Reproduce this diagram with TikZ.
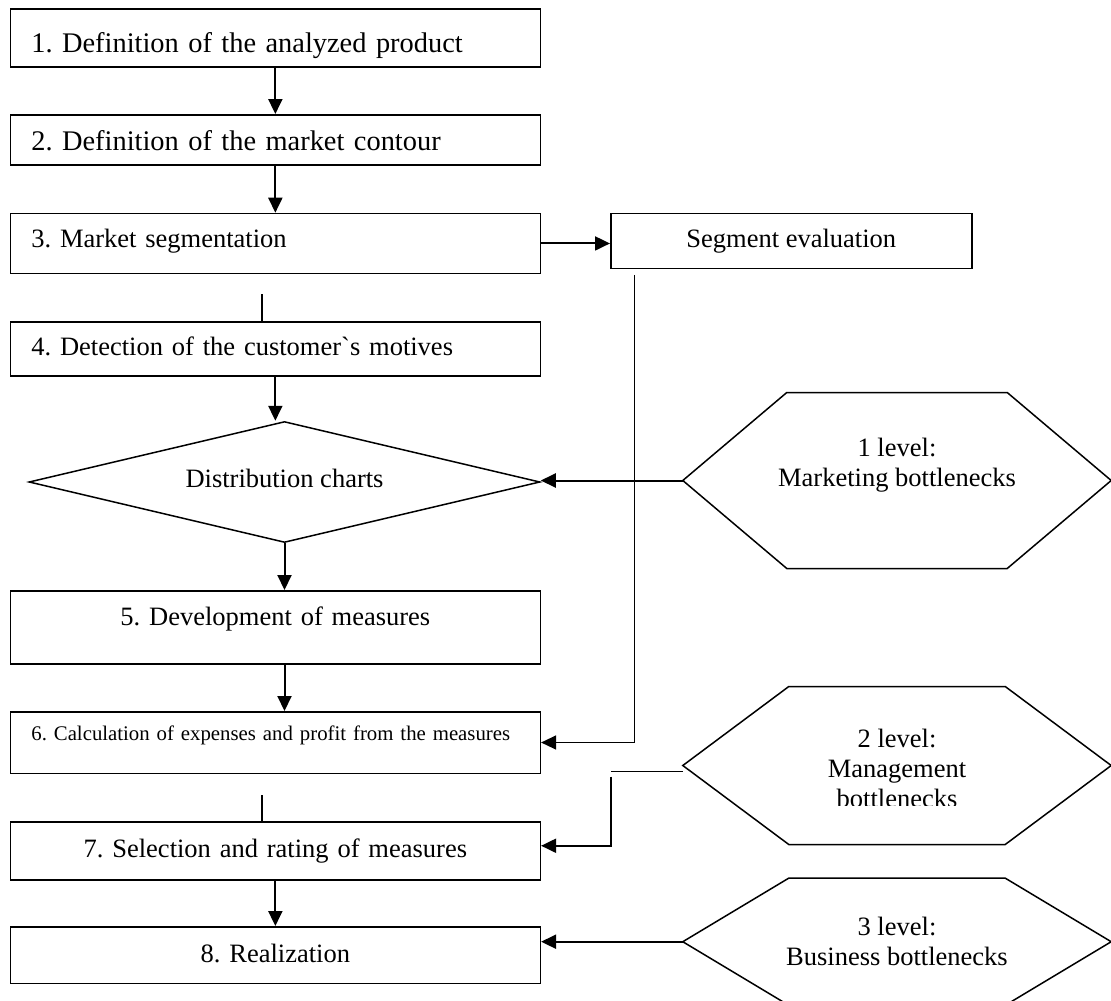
\documentclass[tikz,border=0pt]{standalone}
\usepackage{fontspec}
\setmainfont{Liberation Serif}[Ligatures=TeXOff]
\usetikzlibrary{arrows.meta, shapes.geometric}
\frenchspacing
\newcommand{\mainsize}{\fontsize{26.5pt}{30pt}\selectfont}
\newcommand{\bigsize}{\fontsize{28.4pt}{33pt}\selectfont}
\newcommand{\smallsize}{\fontsize{20.8pt}{25pt}\selectfont}

\begin{document}
\begin{tikzpicture}[
  x=1pt, y=-1pt,
  box/.style={draw, line width=1.5pt, anchor=north west, inner xsep=21pt, inner ysep=0pt,
              text width=488pt, align=left, font=\mainsize},
  hexa/.style={inner sep=0pt, minimum width=428pt},
  hextext/.style={align=center, font=\mainsize, inner sep=0pt},
  arr/.style={-{Triangle[length=15pt, width=14pt]}, line width=2pt},
  ln/.style={line width=1.8pt}
]
\useasboundingbox (0,0) rectangle (1111,1001);

% main chain
\node[box, font=\bigsize, text height=43.7pt, text depth=14pt] (b1) at (9.6,8.3) {1. Definition of the analyzed product};
\node[box, font=\bigsize, text height=36pt, text depth=14pt] (b2) at (9.6,114) {2. Definition of the market contour};
\node[box, text height=34pt, text depth=26pt] (b3) at (9.6,212.7) {3. Market segmentation};
\node[box, text height=34pt, text depth=20pt] (b4) at (9.6,321) {4. Detection of the customer`s motives};
\node[draw, diamond, aspect=4.22, line width=1.5pt, minimum width=511pt, minimum height=121pt,
      inner sep=0pt, font=\mainsize, text depth=8pt] (dia) at (284.5,482) {Distribution charts};
\node[box, align=center, text height=35pt, text depth=38pt] (b5) at (9.6,590) {5. Development of measures};
\node[box, font=\smallsize, text height=29pt, text depth=32.5pt] (b6) at (9.6,711) {\mbox{6. Calculation of expenses and profit from the measures}};
\node[box, align=center, text height=36pt, text depth=22pt] (b7) at (9.6,821) {7. Selection and rating of measures};
\node[box, align=center, text height=35.7pt, text depth=21pt] (b8) at (9.6,926) {8. Realization};

% side boxes
\node[draw, line width=1.5pt, anchor=north west, minimum width=361pt, inner sep=0pt,
      text height=34.3pt, text depth=20.7pt, font=\mainsize] (seg) at (610,212.7) {Segment evaluation};
\node[hexa, minimum height=175.6pt,
      label={[hextext, yshift=15pt]center:{1 level:\\Marketing bottlenecks}}] (h1) at (897,480.5) {};
\begin{scope}
  \clip (600,600) rectangle (1111,805.7);
  \node[hexa, minimum height=157.6pt,
        label={[hextext, yshift=-3pt]center:{2 level:\\Management\\bottlenecks}}] (h2) at (897,765.5) {};
\end{scope}
\node[hexa, minimum height=126.8pt,
      label={[hextext]center:{3 level:\\Business bottlenecks}}] (h3) at (897,941.7) {};
\foreach \h/\c in {h1/104, h2/106, h3/106}
  \draw[line width=1.5pt] (\h.west) -- ([xshift=\c pt]\h.north west) -- ([xshift=-\c pt]\h.north east)
    -- (\h.east) -- ([xshift=-\c pt]\h.south east) -- ([xshift=\c pt]\h.south west) -- cycle;

% connectors
\draw[arr] (b1) -- (b2);
\draw[arr] (b2) -- (b3);
\draw[arr] (b3.east) -- (b3.east -| seg.west);
\draw[ln] ([xshift=-13.6pt]b4.north) -- ++(0,-26.7);
\draw[arr] (b4) -- (b4 |- dia.north);
\draw[arr] (dia) -- (dia |- b5.north);
\draw[arr] (dia |- b5.south) -- (dia |- b6.north);
\draw[ln] ([xshift=-13.6pt]b7.north) -- ++(0,-26);
\draw[arr] (b7) -- (b8);
\coordinate (segdrop) at ([xshift=24.7pt, yshift=-5.6pt]seg.south west);
\draw[arr, line width=1.4pt] (segdrop) |- (b6.east);
\draw[arr] (h1.west) -- (h1.west -| dia.east);
\draw[ln] ([yshift=-6pt]h2.west) -- ++(-72,0);
\draw[arr] ([yshift=-11pt]h2.west) ++(-72,0) |- ([yshift=5pt]b7.east);
\draw[arr] (h3.west) -- (h3.west -| b8.east);
\end{tikzpicture}
\end{document}
